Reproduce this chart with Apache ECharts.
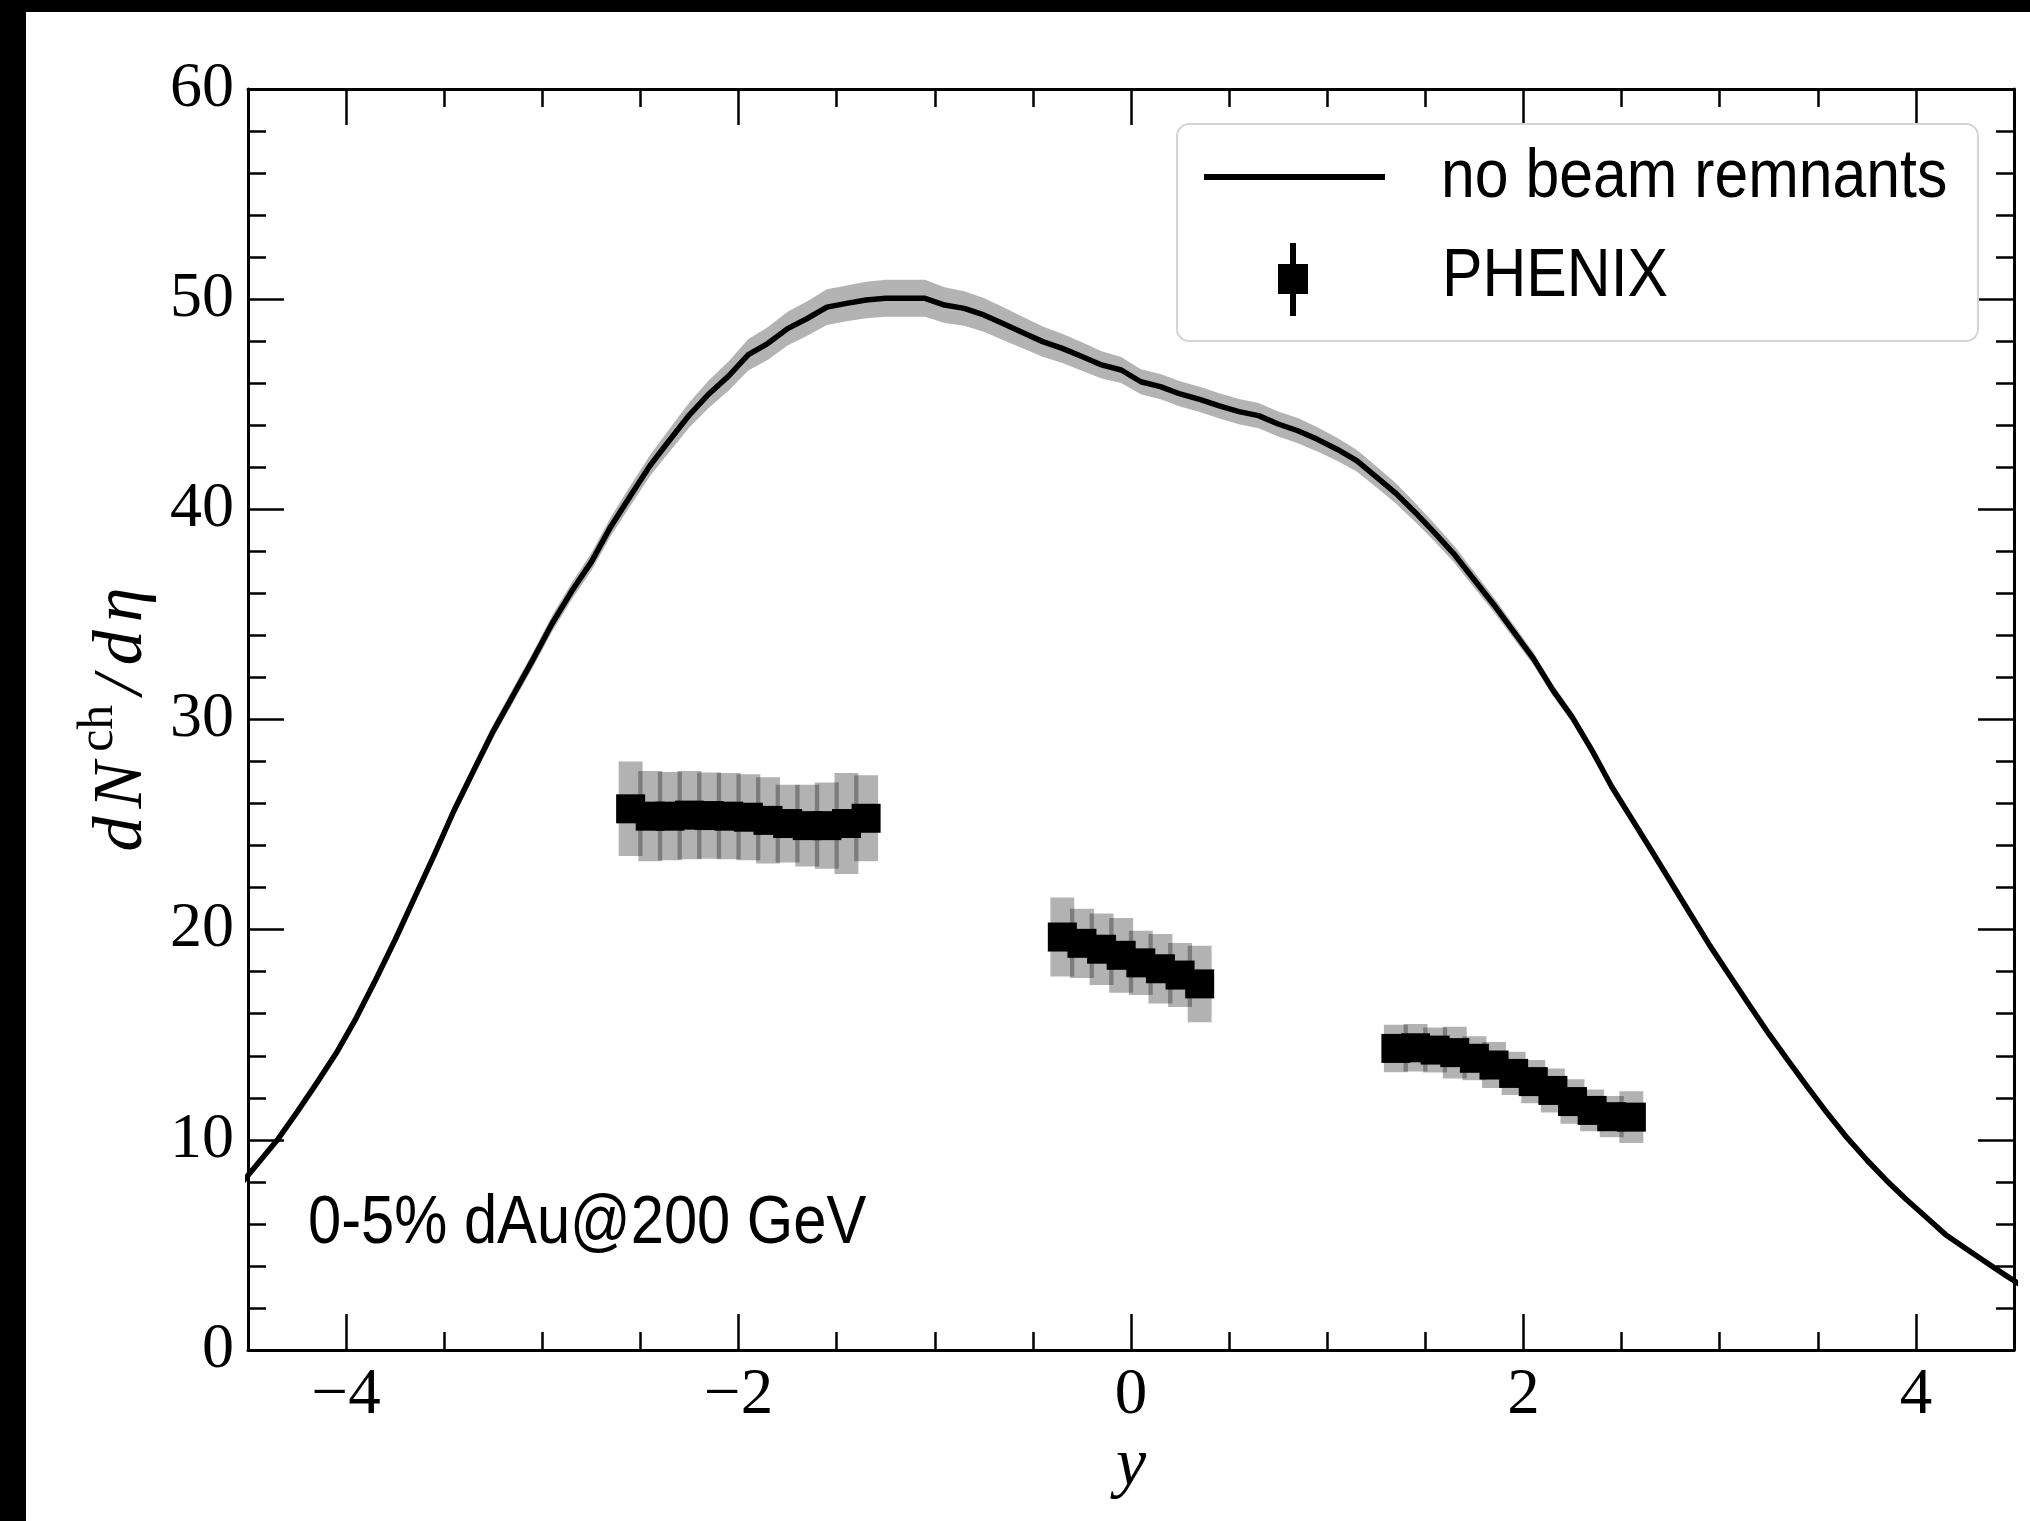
<!DOCTYPE html>
<html><head><meta charset="utf-8">
<script src="https://cdn.jsdelivr.net/npm/echarts@6/dist/echarts.min.js"></script>
<style>
html,body{margin:0;padding:0;background:#000;width:2030px;height:1521px;overflow:hidden}
#chart{position:absolute;left:26px;top:12px;width:2004px;height:1509px;background:#fff}
</style>
</head><body><div id="chart"></div>
<script>
// ---------------- data ----------------
const curveX = [-4.55,-4.45,-4.35,-4.25,-4.15,-4.05,-3.95,-3.85,-3.75,-3.65,-3.55,-3.45,-3.35,-3.25,-3.15,-3.05,-2.95,-2.85,-2.75,-2.65,-2.55,-2.45,-2.35,-2.25,-2.15,-2.05,-1.95,-1.85,-1.75,-1.65,-1.55,-1.45,-1.35,-1.25,-1.15,-1.05,-0.95,-0.85,-0.75,-0.65,-0.55,-0.45,-0.35,-0.25,-0.15,-0.05,0.05,0.15,0.25,0.35,0.45,0.55,0.65,0.75,0.85,0.95,1.05,1.15,1.25,1.35,1.45,1.55,1.65,1.75,1.85,1.95,2.05,2.15,2.25,2.35,2.45,2.55,2.65,2.75,2.85,2.95,3.05,3.15,3.25,3.35,3.45,3.55,3.65,3.75,3.85,3.95,4.05,4.15,4.25,4.35,4.45,4.55];
const curveY = [7.75,8.87,10.0,11.32,12.7,14.13,15.77,17.61,19.52,21.55,23.57,25.67,27.57,29.45,31.13,32.81,34.57,36.11,37.5,39.2,40.66,42.1,43.31,44.5,45.5,46.35,47.36,47.9,48.6,49.08,49.62,49.8,49.96,50.04,50.04,50.04,49.72,49.56,49.25,48.83,48.4,47.98,47.66,47.27,46.87,46.63,46.07,45.84,45.49,45.23,44.92,44.65,44.46,44.06,43.74,43.33,42.86,42.32,41.55,40.76,39.84,38.86,37.83,36.64,35.45,34.18,32.91,31.4,30.09,28.52,26.8,25.3,23.8,22.28,20.76,19.24,17.83,16.43,15.05,13.76,12.48,11.25,10.09,9.04,8.07,7.17,6.34,5.5,4.85,4.22,3.6,3.0];
const curveErr = [0.1,0.1,0.12,0.13,0.15,0.16,0.18,0.2,0.22,0.24,0.26,
  0.28,0.3,0.32,0.34,0.36,0.38,0.4,0.42,0.45,0.48,
  0.5,0.55,0.6,0.65,0.7,0.75,0.78,0.8,0.82,0.85,
  0.85,0.87,0.88,0.88,0.88,0.85,0.82,0.8,0.78,0.75,
  0.72,0.7,0.68,0.65,0.62,0.6,0.6,0.6,0.6,0.6,
  0.6,0.6,0.6,0.6,0.58,0.55,0.52,0.5,0.48,0.45,
  0.42,0.4,0.38,0.35,0.33,0.3,0.28,0.26,0.24,0.22,
  0.2,0.18,0.16,0.15,0.14,0.13,0.12,0.11,0.1,0.1,
  0.09,0.08,0.08,0.07,0.07,0.06,0.06,0.05,0.05,0.05,0.05];

const phenixX1 = [-2.55,-2.45,-2.35,-2.25,-2.15,-2.05,-1.95,-1.85,-1.75,-1.65,-1.55,-1.45,-1.35];
const phenixY1 = [25.75,25.4,25.4,25.45,25.43,25.4,25.35,25.2,25.05,24.95,24.95,25.05,25.3];
const phenixSys1 = [2.25,2.15,2.1,2.1,2.05,2.05,2.05,2.05,1.85,1.95,2.05,2.4,2.05];
const phenixX2 = [-0.35,-0.25,-0.15,-0.05,0.05,0.15,0.25,0.35];
const phenixY2 = [19.65,19.35,19.07,18.78,18.42,18.14,17.84,17.42];
const phenixSys2 = [1.88,1.65,1.7,1.78,1.53,1.65,1.52,1.82];
const phenixX3 = [1.35,1.45,1.55,1.65,1.75,1.85,1.95,2.05,2.15,2.25,2.35,2.45,2.55];
const phenixY3 = [14.35,14.38,14.27,14.15,13.88,13.56,13.16,12.77,12.35,11.82,11.4,11.1,11.08];
const phenixSys3 = [1.13,1.13,1.07,1.23,1.05,1.09,1.03,1.03,1.05,1.06,0.99,0.98,1.23];

const xMajorTicks = [-4, -2, 0, 2, 4];
const seriesNames = ['no beam remnants', 'PHENIX'];
const annotationText = '0-5% dAu@200 GeV';

// ---------------- build ----------------
const SERIF = "'Liberation Serif', 'DejaVu Serif', serif";
const SANS = "'Liberation Sans', 'DejaVu Sans', sans-serif";
const BOX_HW = 0.061;

const curveData = curveX.map((x, i) => [x, curveY[i]]);
const bandData = curveX.map((x, i) => [x, curveY[i] - curveErr[i], curveY[i] + curveErr[i]]);
const phX = phenixX1.concat(phenixX2, phenixX3);
const phY = phenixY1.concat(phenixY2, phenixY3);
const phS = phenixSys1.concat(phenixSys2, phenixSys3);
const phenixData = phX.map((x, i) => [x, phY[i], phS[i]]);

const fmtNum = v => (v < 0 ? '\u2212' + Math.abs(v) : String(v));

const chart = echarts.init(document.getElementById('chart'), null, {renderer: 'canvas'});

const tickStyle = {color: '#000', width: 2.5};
const axisLineStyle = {show: true, onZero: false, lineStyle: {color: '#000', width: 3}};

function xAxisMinor(pos) {
  return {type: 'value', position: pos, min: -4.5, max: 4.5, interval: 0.5,
    axisLine: axisLineStyle,
    axisTick: {show: true, inside: true, length: 18, lineStyle: tickStyle},
    axisLabel: {show: false}, splitLine: {show: false}};
}
function xAxisMajor(pos, labels) {
  const a = {type: 'value', position: pos, min: -4.5, max: 4.5, interval: 0.5,
    axisLine: {show: false, onZero: false},
    axisTick: {show: true, inside: true, length: 36, lineStyle: tickStyle, customValues: xMajorTicks},
    axisLabel: {show: labels, customValues: xMajorTicks, formatter: fmtNum, margin: 13,
      fontFamily: SERIF, fontSize: 65, color: '#000'},
    splitLine: {show: false}};
  if (labels) {
    a.name = 'y';
    a.nameLocation = 'middle';
    a.nameGap = 80;
    a.nameTextStyle = {fontFamily: SERIF, fontStyle: 'italic', fontSize: 68, color: '#000'};
  }
  return a;
}
function yAxisDef(pos, labels) {
  const a = {type: 'value', position: pos, min: 0, max: 60, interval: 10,
    axisLine: axisLineStyle,
    axisTick: {show: true, inside: true, length: 36, lineStyle: tickStyle},
    minorTick: {show: true, splitNumber: 5, length: 18, lineStyle: tickStyle},
    axisLabel: {show: labels, formatter: fmtNum, margin: 14, fontFamily: SERIF, fontSize: 64, color: '#000',
      padding: [12, 0, 0, 0]},
    splitLine: {show: false}, minorSplitLine: {show: false}};
  if (labels) {
    a.name = '{a|d}{b|N}{s|ch}{c|/}{a|d}{e|\u03b7}';
    a.nameLocation = 'middle';
    a.nameGap = 90;
    a.nameRotate = 90;
    const it = {fontFamily: SERIF, fontStyle: 'italic', fontSize: 70, color: '#000', verticalAlign: 'bottom', lineHeight: 84, padding: [0, 8, 0, 0]};
    a.nameTextStyle = {color: '#000', rich: {
      a: it, b: Object.assign({}, it, {padding: [0, 4, 0, 0]}), c: Object.assign({}, it, {padding: [0, 10, 0, 4]}),
      e: Object.assign({}, it, {padding: [0, 0, 0, 0]}),
      s: {fontFamily: SERIF, fontSize: 50, color: '#000', verticalAlign: 'top', lineHeight: 56, padding: [0, 6, 0, 6]}
    }};
  }
  return a;
}

const option = {
  animation: false,
  backgroundColor: '#fff',
  grid: {left: 222, top: 77, right: 16, bottom: 171, containLabel: false, outerBoundsMode: 'none'},
  xAxis: [xAxisMinor('bottom'), xAxisMajor('bottom', true), xAxisMinor('top'), xAxisMajor('top', false)],
  yAxis: [yAxisDef('left', true), yAxisDef('right', false)],
  series: [
    {
      type: 'custom', name: seriesNames[0] + ' band', xAxisIndex: 0, yAxisIndex: 0, clip: true, z: 1,
      data: bandData, encode: {x: 0, y: [1, 2]},
      renderItem: function (params, api) {
        if (params.dataIndex !== 0) return null;
        const upper = bandData.map(d => api.coord([d[0], d[2]]));
        const lower = bandData.map(d => api.coord([d[0], d[1]])).reverse();
        return {type: 'polygon', shape: {points: upper.concat(lower)}, style: {fill: '#b3b3b3'}};
      }
    },
    {
      type: 'line', name: seriesNames[0], xAxisIndex: 0, yAxisIndex: 0, data: curveData,
      showSymbol: false, symbol: 'none', clip: true, z: 3,
      lineStyle: {color: '#000', width: 5.5, join: 'round'}, itemStyle: {color: '#000'}
    },
    {
      type: 'custom', name: seriesNames[1] + ' sys', xAxisIndex: 0, yAxisIndex: 0, z: 2,
      data: phenixData, encode: {x: 0, y: 1},
      renderItem: function (params, api) {
        const x = api.value(0), y = api.value(1), s = api.value(2);
        const p1 = api.coord([x - BOX_HW, y + s]);
        const p2 = api.coord([x + BOX_HW, y - s]);
        return {type: 'rect', shape: {x: p1[0], y: p1[1], width: p2[0] - p1[0], height: p2[1] - p1[1]},
          style: {fill: 'rgba(0,0,0,0.3)'}};
      }
    },
    {
      type: 'scatter', name: seriesNames[1], xAxisIndex: 0, yAxisIndex: 0, z: 4,
      data: phenixData.map(d => [d[0], d[1]]), symbol: 'rect', symbolSize: 29,
      itemStyle: {color: '#000', opacity: 1}
    }
  ],
  graphic: [
    {type: 'rect', z: 100, shape: {x: 1151, y: 112, width: 801, height: 217, r: 12},
      style: {fill: '#fff', stroke: '#d4d4d4', lineWidth: 2}},
    {type: 'line', z: 101, shape: {x1: 1178, y1: 165, x2: 1359, y2: 165},
      style: {stroke: '#000', lineWidth: 6}},
    {type: 'line', z: 101, shape: {x1: 1267, y1: 231, x2: 1267, y2: 304},
      style: {stroke: '#000', lineWidth: 6}},
    {type: 'rect', z: 101, shape: {x: 1252, y: 252, width: 30, height: 30}, style: {fill: '#000'}},
    {type: 'text', z: 101, x: 1415, y: 166, scaleX: 0.88,
      style: {text: seriesNames[0], fontFamily: SANS, fontSize: 69, fill: '#000',
        align: 'left', verticalAlign: 'middle', textAlign: 'left', textVerticalAlign: 'middle'}},
    {type: 'text', z: 101, x: 1416, y: 265, scaleX: 0.88,
      style: {text: seriesNames[1], fontFamily: SANS, fontSize: 69, fill: '#000',
        align: 'left', verticalAlign: 'middle', textAlign: 'left', textVerticalAlign: 'middle'}},
    {type: 'text', z: 101, x: 282, y: 1212, scaleX: 0.865,
      style: {text: annotationText, fontFamily: SANS, fontSize: 69, fill: '#000',
        align: 'left', verticalAlign: 'middle', textAlign: 'left', textVerticalAlign: 'middle'}}
  ]
};
chart.setOption(option);
</script>
</body></html>
